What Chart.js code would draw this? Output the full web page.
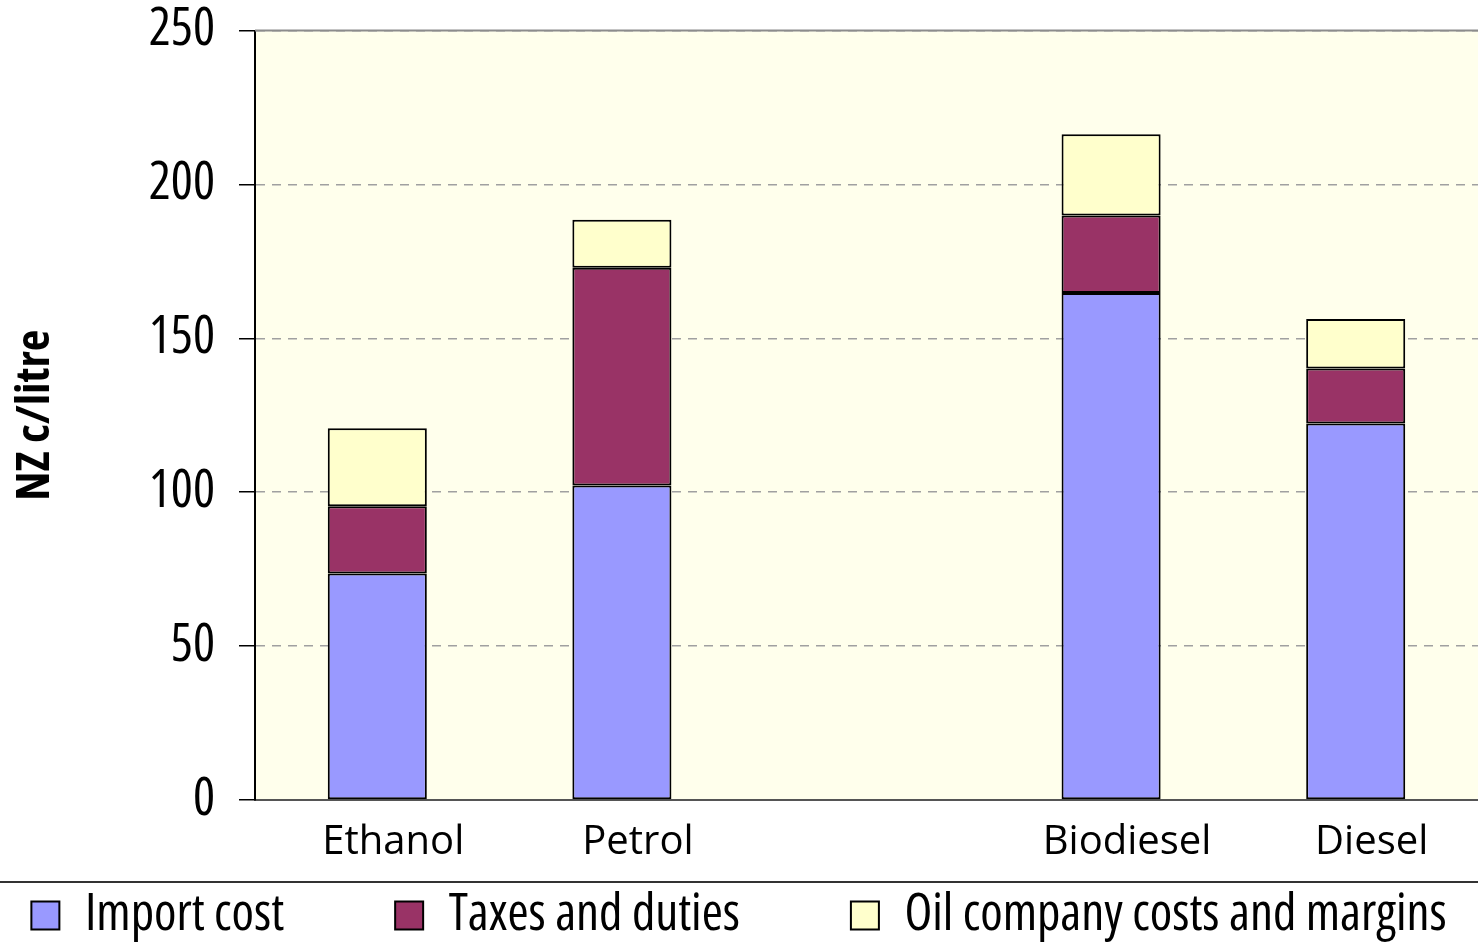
<!DOCTYPE html>
<html>
<head>
<meta charset="utf-8">
<script src="https://cdn.jsdelivr.net/npm/chart.js@4/dist/chart.umd.min.js"></script>
<style>
  html, body { margin: 0; padding: 0; background: #fff; }
  #wrap { width: 1478px; height: 951px; }
</style>
</head>
<body>
<div id="wrap"><canvas id="myChart" width="1478" height="951"></canvas></div>
<script>
// categories (empty slot between petrol and biodiesel groups)
const fuels = ["Ethanol", "Petrol", "", "Biodiesel", "Diesel"];

// NZ c/litre
const importCost = [73.6, 102.2, null, 164.7, 122.3];
const taxesDuties = [21.8, 70.7, null, 25.2, 17.9];
const oilMargins = [25.4, 15.6, null, 26.4, 16.1];

const yTicks = [0, 50, 100, 150, 200, 250];

// pale yellow plot area, top frame line and the rule above the legend
const plotBackground = {
  id: "plotBackground",
  beforeDraw(chart) {
    const { ctx, chartArea } = chart;
    ctx.save();
    ctx.fillStyle = "#FFFFEC";
    ctx.fillRect(chartArea.left, chartArea.top, chartArea.right - chartArea.left, chartArea.bottom - chartArea.top);
    ctx.restore();
  },
  afterDraw(chart) {
    const { ctx, chartArea } = chart;
    ctx.save();
    ctx.strokeStyle = "#8c8c8c";
    ctx.lineWidth = 2;
    ctx.beginPath();
    ctx.moveTo(chartArea.left, chartArea.top);
    ctx.lineTo(chartArea.right, chartArea.top);
    ctx.stroke();

    const y = chart.legend.top + 1;
    ctx.strokeStyle = "#333";
    ctx.lineWidth = 2;
    ctx.beginPath();
    ctx.moveTo(0, y);
    ctx.lineTo(chart.width, y);
    ctx.stroke();
    ctx.restore();
  },
};

const ctx = document.getElementById("myChart").getContext("2d");
new Chart(ctx, {
  type: "bar",
  data: {
    labels: fuels,
    datasets: [
      { label: "Import cost", data: importCost, backgroundColor: "#9999FF" },
      { label: "Taxes and duties", data: taxesDuties, backgroundColor: "#993366" },
      { label: "Oil company costs and margins", data: oilMargins, backgroundColor: "#FFFFCC" },
    ].map((d) => ({
      ...d,
      borderColor: "#000",
      borderWidth: 2,
      borderSkipped: false,
      barPercentage: 0.405,
      categoryPercentage: 1,
    })),
  },
  plugins: [plotBackground],
  options: {
    responsive: false,
    animation: false,
    layout: { padding: { top: 30, right: 0, left: 0, bottom: 0 } },
    plugins: {
      tooltip: { enabled: false },
      legend: {
        position: "bottom",
        labels: {
          color: "#000",
          font: { family: "'Open Sans'", weight: "condensed", size: 51 },
          boxWidth: 28,
          boxHeight: 28,
          padding: 9,
          // wider gap between the three entries
          generateLabels: (chart) =>
            Chart.defaults.plugins.legend.labels.generateLabels(chart).map((item, i, all) => ({
              ...item,
              text: i < all.length - 1 ? item.text + "\u2003\u2003" : item.text,
            })),
        },
      },
    },
    scales: {
      x: {
        stacked: true,
        grid: { display: false },
        border: { display: true, color: "#555", width: 2 },
        ticks: {
          color: "#000",
          font: { family: "'Open Sans', sans-serif", size: 40 },
          padding: 11,
          labelOffset: 16,
        },
        afterFit: (scale) => { scale.height = 81; },
      },
      y: {
        stacked: true,
        min: 0,
        max: 250,
        afterBuildTicks: (scale) => { scale.ticks = yTicks.map((v) => ({ value: v })); },
        grid: {
          color: "#a0a0a0",
          lineWidth: 1.5,
          tickLength: 16,
          tickColor: "#000",
          tickWidth: 1.5,
        },
        border: { display: true, color: "#000", width: 2, dash: [9, 7] },
        ticks: {
          color: "#000",
          font: { family: "'Open Sans'", weight: "condensed", size: 52, lineHeight: 0.25 },
          padding: 24,
        },
        title: {
          display: true,
          text: "NZ c/litre",
          color: "#000",
          font: { family: "'Open Sans'", size: 47, weight: "bold condensed" },
          padding: { top: 7, bottom: 0 },
        },
        afterFit: (scale) => { scale.width = 255; },
      },
    },
  },
});
</script>
</body>
</html>
